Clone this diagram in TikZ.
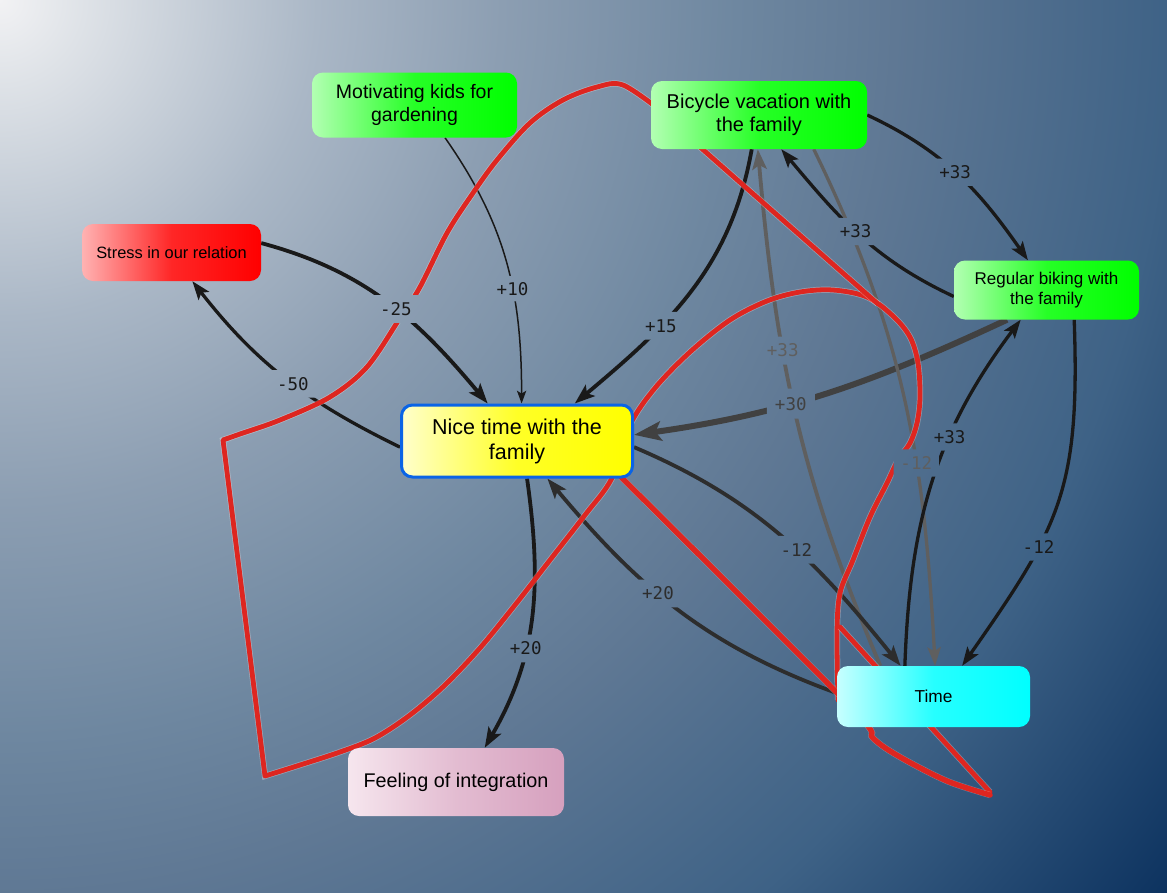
\documentclass[tikz,border=0pt]{standalone}
\usepackage{fontspec}
\setmainfont{Liberation Sans}
\newfontfamily\weightfont{DejaVu Sans Mono}
\usetikzlibrary{arrows.meta}
\definecolor{bg0}{RGB}{242,242,244}
\definecolor{bg1}{RGB}{222,226,231}
\definecolor{bg2}{RGB}{170,183,198}
\definecolor{bg3}{RGB}{140,158,178}
\definecolor{bg4}{RGB}{110,135,160}
\definecolor{bg5}{RGB}{95,120,148}
\definecolor{bg6}{RGB}{62,98,134}
\definecolor{bg7}{RGB}{12,50,95}
\definecolor{scrib}{RGB}{222,38,32}
\definecolor{nice-blue}{RGB}{10,100,230}
\definecolor{pink-l}{RGB}{246,230,238}
\definecolor{pink-r}{RGB}{214,160,190}
\definecolor{link-a}{RGB}{25,25,25}
\definecolor{link-b}{RGB}{45,45,45}
\definecolor{link-c}{RGB}{65,65,65}
\definecolor{link-d}{RGB}{95,95,95}
% concentric circles round the top left corner
\pgfdeclareradialshading{paper}{\pgfpointorigin}{%
  color(0bp)=(bg0); color(85bp)=(bg1); color(316bp)=(bg2); color(500bp)=(bg3);
  color(734bp)=(bg4); color(892bp)=(bg5); color(1167bp)=(bg6); color(1468bp)=(bg7);
  color(1500bp)=(bg7)}
\pgfdeclarelayer{back}
\pgfdeclarelayer{links}
\pgfdeclarelayer{tags}
\pgfsetlayers{back,links,tags,main}

\begin{document}
\begin{tikzpicture}[x=1pt, y=-1pt,
  concept/.style={rectangle, rounded corners=11pt, align=center, inner sep=0pt},
  greenbox/.style={concept, left color=green!30!white, right color=green,
                   middle color=green!85!white},
  link/.style={->, line width=3.8pt, draw=link-a},
  wt/.style={rectangle, inner sep=0pt, minimum width=42pt, minimum height=24pt},
  wtext/.style={font=\weightfont\fontsize{17.5}{18}\selectfont},
  scribble/.style={draw=scrib, line width=4.8pt, line join=round, line cap=round,
                   preaction={draw=white, line width=6.2pt, opacity=.3}},
  >={Stealth[length=8pt 3.2, width=6pt 2.2, inset=2pt 0.6]}
]
  \useasboundingbox (0,0) rectangle (1167,892);

  % Concepts
  \node[greenbox, minimum width=205pt, minimum height=65pt,
        font=\fontsize{19.5}{23}\selectfont] (kids) at (414.5,105)
        {Motivating kids for\\gardening};
  \node[greenbox, minimum width=216pt, minimum height=68pt,
        font=\fontsize{20}{23}\selectfont] (bike) at (759,115)
        {Bicycle vacation with\\the family};
  \node[concept, minimum width=179pt, minimum height=57pt,
        left color=red!30!white, right color=red, middle color=red!85!white,
        font=\fontsize{16.4}{19}\selectfont] (stress) at (171.5,252.5)
        {Stress in our relation};
  \node[greenbox, minimum width=185pt, minimum height=59pt,
        font=\fontsize{17}{20}\selectfont] (reg) at (1046.5,290)
        {Regular biking with\\the family};
  \node[concept, draw=nice-blue, line width=3pt, minimum width=231pt, minimum height=72pt,
        left color=yellow!20!white, right color=yellow, middle color=yellow!85!white,
        font=\fontsize{21.5}{25}\selectfont] (nice) at (517,441)
        {Nice time with the\\family};
  \node[concept, minimum width=216pt, minimum height=68pt,
        left color=pink-l, right color=pink-r, middle color=pink-r!60!pink-l,
        font=\fontsize{19.8}{23}\selectfont] (feel) at (456,782)
        {Feeling of integration};
  \node[concept, minimum width=193pt, minimum height=61pt,
        left color=cyan!22!white, right color=cyan, middle color=cyan!85!white,
        font=\fontsize{17.3}{20}\selectfont] (time) at (933.5,696.5)
        {Time};

  % Weighted links
  \begin{pgfonlayer}{links}
    \draw[link, line width=1.5pt] (kids.-47) to[out=-55, in=90] node[wt, pos=.6] (w1) {} (nice.83);
    \draw[link] (stress.6) to[out=-15, in=130] node[wt, pos=.54] (w2) {} (nice.128);
    \draw[link, line width=3.3pt] (nice.183) to[out=154, in=-52] node[wt, pos=.46] (w3) {} (stress.-54);
    \draw[link] (bike.-102) to[out=-100, in=40] node[wt, pos=.65] (w4) {} (nice.33);
    \draw[link, line width=3.3pt] (bike.0) to[out=-25, in=125] node[wt, pos=.48] (w5) {} (reg.122);
    \draw[link, line width=3.3pt] (reg.184) to[out=155, in=-50] node[wt, pos=.52] (w6) {} (bike.-57);
    \draw[link, line width=6pt, draw=link-c] (reg.217) to[out=205, in=8] node[wt, pos=.6] (w7) {} (nice.3);
    \draw[link, draw=link-d] (time.150) to[out=113, in=-85] node[wt, pos=.63] (w8) {} (bike.-92);
    \draw[link, line width=3.3pt, draw=link-d] (bike.-32) to[out=-64, in=93] node[wt, pos=.63] (w9) {} (time.87);
    \draw[link, draw=link-b] (nice.-3) to[out=-23, in=129] node[wt, pos=.56] (w10) {} (time.137);
    \draw[link, line width=3.3pt] (time.133) to[out=88, in=-127] node[wt, pos=.64] (w11) {} (reg.-131);
    \draw[link, line width=3.3pt] (reg.-47) to[out=-88, in=55, looseness=1.2] node[wt, pos=.65] (w12) {} (time.47);
    \draw[link, draw=link-b] (time.178) to[out=160, in=-50] node[wt, pos=.57] (w13) {} (nice.-51);
    \draw[link] (nice.-75) to[out=-82, in=60] node[wt, pos=.62] (w14) {} (feel.50);

    % Freehand loop
    \draw[scribble] plot[smooth, tension=.55] coordinates {(660,110) (623,85) (597,87)
        (563,100) (530,123) (497,160) (473,193) (447,233) (420,287) (400,318) (367,367)
        (330,397) (280,420) (240,434) (223,440)}
      -- (265,776)
      -- plot[smooth, tension=.55] coordinates {(265,776) (300,765) (340,752) (375,738)
        (410,715) (445,685) (480,648) (515,605) (550,560) (585,515) (612,478) (630,425)
        (655,388) (690,352) (730,320) (767,301) (800,292) (833,290)
        (867,297) (893,316) (910,337) (918,363) (920,397) (917,423) (910,443) (898,460)
        (887,483) (870,517) (853,560) (840,593) (837,633) (838,700)};
    \draw[scribble] (692,140) -- (878,304);
    \draw[scribble] (840,627) -- (990,792);
    \draw[scribble, line width=5.5pt] plot[smooth, tension=.5] coordinates {(620,476)
        (850,706) (873,738) (900,757) (947,781) (990,795)};
  \end{pgfonlayer}

  % Weight labels
  \begin{pgfonlayer}{tags}
    \begin{scope}
      \clip foreach \i in {1,...,14} {(w\i.south west) rectangle (w\i.north east)};
      \pgfuseshading{paper}
    \end{scope}
    \foreach \i/\val/\col in {1/+10/link-a, 2/-25/link-a, 3/-50/link-a, 4/+15/link-a,
        5/+33/link-a, 6/+33/link-a, 7/+30/link-c, 8/+33/link-d, 9/-12/link-d,
        10/-12/link-b, 11/+33/link-a, 12/-12/link-a, 13/+20/link-b, 14/+20/link-a}
      \node[wtext, text=\col] at (w\i) {\val};
  \end{pgfonlayer}

  \begin{pgfonlayer}{back}
    \begin{scope}
      \clip (0,0) rectangle (1167,892);
      \pgfuseshading{paper}
    \end{scope}
  \end{pgfonlayer}
\end{tikzpicture}
\end{document}
